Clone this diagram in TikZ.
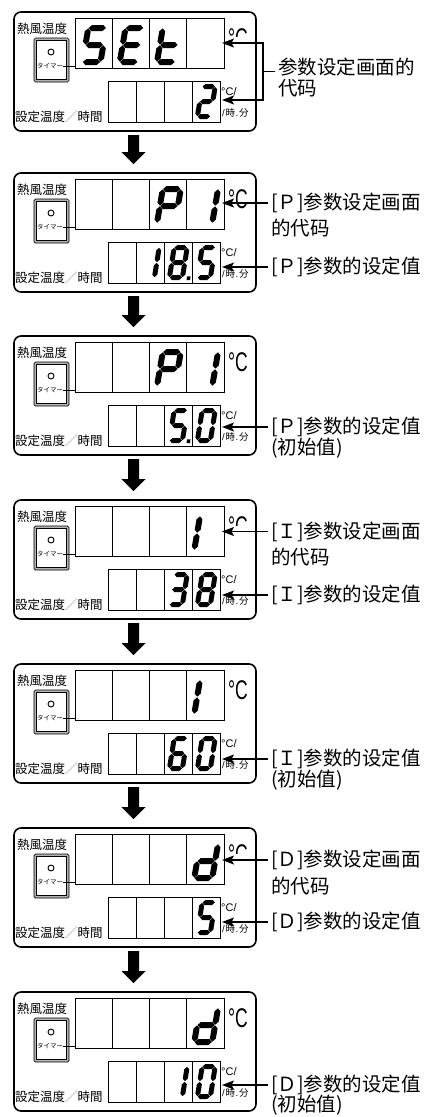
\documentclass[tikz,border=0pt]{standalone}
\usepackage{fontspec}
\usepackage{graphicx}
\usetikzlibrary{arrows.meta,calc}
\newfontfamily\jpfont{Noto Sans CJK JP}
\newfontfamily\zhfont{Noto Sans CJK SC}
\newfontfamily\lsans{Liberation Sans}

\newcommand\SegG{0.35}
\newcommand\hseg[3]{\fill (#1+0.5*\SgT+\SegG,#3) -- (#1+\SgT+\SegG,#3+0.5*\SgT) -- (#2-\SgT-\SegG,#3+0.5*\SgT) -- (#2-0.5*\SgT-\SegG,#3) -- (#2-\SgT-\SegG,#3-0.5*\SgT) -- (#1+\SgT+\SegG,#3-0.5*\SgT) -- cycle;}
\newcommand\vseg[3]{\fill (#1,#2+0.5*\SgT+\SegG) -- (#1+0.5*\SgT,#2+\SgT+\SegG) -- (#1+0.5*\SgT,#3-\SgT-\SegG) -- (#1,#3-0.5*\SgT-\SegG) -- (#1-0.5*\SgT,#3-\SgT-\SegG) -- (#1-0.5*\SgT,#2+\SgT+\SegG) -- cycle;}
\def\Sega{\hseg{0}{\SgW}{\SgH-0.5*\SgT}}
\def\Segg{\hseg{0}{\SgW}{0.5*\SgH}}
\def\Segd{\hseg{0}{\SgW}{0.5*\SgT}}
\def\Segb{\vseg{\SgW-0.5*\SgT}{0.5*\SgH-0.5*\SgT}{\SgH}}
\def\Segc{\vseg{\SgW-0.5*\SgT}{0}{0.5*\SgH+0.5*\SgT}}
\def\Segf{\vseg{0.5*\SgT}{0.5*\SgH-0.5*\SgT}{\SgH}}
\def\Sege{\vseg{0.5*\SgT}{0}{0.5*\SgH+0.5*\SgT}}
\def\Segp{\fill (\SgW+0.4*\SgT,0) rectangle (\SgW+1.1*\SgT,0.75*\SgT);}

\newcommand\SevSeg[7]{%
  \begin{scope}[shift={(#1,#2)},yscale=-1,xslant=-#6]
    \def\SgW{#3}\def\SgH{#4}\def\SgT{#5}%
    \foreach \s in {#7}{\csname Seg\s\endcsname}%
  \end{scope}}
% #1 panel top, #2 cell index, #3 segments
\newcommand\TopDig[3]{\SevSeg{75+37.25*#2+4}{#1+53}{24}{40}{6}{0.17}{#3}}
\newcommand\BotDig[3]{\SevSeg{108+28*#2+2.5}{#1+107}{18}{35}{5}{0.16}{#3}}

\tikzset{
  panelbox/.style={draw, line width=1.6pt, rounded corners=7pt, outer sep=0pt, inner sep=0pt},
  disp/.style={draw, line width=1pt, outer sep=0pt, inner sep=0pt},
  divline/.style={line width=1pt},
  btnout/.style={draw, line width=0.7pt, fill=gray!60, rounded corners=1.5pt, minimum width=35pt, minimum height=44pt, outer sep=0pt, inner sep=0pt},
  btnin/.style={draw, line width=0.7pt, fill=white, minimum width=29.5pt, minimum height=38.5pt, outer sep=0pt, inner sep=0pt},
  led/.style={circle, draw, line width=0.9pt, minimum size=6pt, inner sep=0pt},
  tmlbl/.style={font=\jpfont\fontsize{6.5}{7}\selectfont, inner sep=0pt},
  thinline/.style={line width=0.7pt},
  plbl/.style={font=\jpfont\fontsize{12.5}{14}\selectfont, anchor=west, inner sep=0pt},
  degc/.style={font=\lsans\fontsize{27}{27}\selectfont, anchor=west, inner sep=0pt},
  smallu/.style={font=\lsans\fontsize{11}{12}\selectfont, anchor=west, inner sep=0pt},
  zlbl/.style={font=\zhfont\fontsize{19.5}{21}\selectfont, anchor=west, inner sep=0pt},
  ptr/.style={line width=1.1pt, -{Stealth[length=12pt,width=9pt,inset=2.5pt]}},
  erase/.style={white, line width=12pt},
}

\newcommand\Panel[2]{%
  \node[panelbox, minimum width=242pt, minimum height=119pt, anchor=north west] (p#1) at (14,#2) {};
  \node[disp, minimum width=149pt, minimum height=50pt, anchor=north west] (t#1) at (75,#2+6) {};
  \node[disp, minimum width=112pt, minimum height=41pt, anchor=north west] (b#1) at (108,#2+69) {};
  \foreach \k in {1,2,3}{%
    \draw[divline] ([xshift={37.25*\k}]t#1.north west) -- ([xshift={37.25*\k}]t#1.south west);
    \draw[divline] ([xshift={28*\k}]b#1.north west) -- ([xshift={28*\k}]b#1.south west);}
  \node[btnout, anchor=north west] (bo#1) at (34,#2+26) {};
  \node[btnin] (bi#1) at (bo#1.center) {};
  \node[led] (led#1) at (51,#2+40) {};
  \node[tmlbl] (tm#1) at (50,#2+54) {タイマー};
  \draw[thinline] (tm#1.east) -- (tm#1.east -| t#1.west);
  \node[plbl] (hf#1) at (17,#2+17) {熱風温度};
  \node[plbl] (st#1) at (15,#2+105) {設定温度\textcolor{gray!85}{／}時間};
  \node[degc] (dc#1) at (228,#2+26) {\scalebox{0.65}[1]{°C}};
  \node[smallu] (du#1) at (221,#2+80) {°C/};
  \node[smallu, font=\lsans\fontsize{9.5}{10}\selectfont] (hm#1) at (222,#2+101) {/\kern0.8pt{\jpfont 時}\kern0.6pt.\kern0.8pt{\jpfont 分}};
}

\newcommand\DnArrow[2]{%
  \fill let \p1=(#1.south), \p2=(#2.north) in
    (\x1-7pt,\y1-4pt) -- (\x1+4pt,\y1-4pt) -- (\x1+4pt,\y2+21pt) -- (\x1+10.5pt,\y2+21pt)
    -- (\x1-1.5pt,\y2+9pt) -- (\x1-13.5pt,\y2+21pt) -- (\x1-7pt,\y2+21pt) -- cycle;}

\begin{document}
\begin{tikzpicture}[x=1pt,y=-1pt]
\useasboundingbox[fill=white] (0,0) rectangle (428,1117);

% ---------- Panel 1
\Panel{1}{12}
\TopDig{12}{0}{a,f,g,c,d}
\TopDig{12}{1}{a,f,g,e,d}
\TopDig{12}{2}{f,g,e,d}
\BotDig{12}{3}{a,b,g,e,d}
\draw[erase] (226,12+31) -- (252,12+31);
\node[zlbl] (la1) at (278,12+55) {参数设定画面的};
\node[zlbl] (lb1) at (278,12+76.5) {代码};
\coordinate (k1) at (275,12+59.5);
\coordinate (ta1) at (222,12+31);
\coordinate (tb1) at (222,12+88);
\draw[ptr] (k1) -- ++(-12,0) |- (ta1);
\draw[ptr] (k1) -- ++(-12,0) |- (tb1);

% ---------- Panel 2
\Panel{2}{173}
\TopDig{173}{2}{a,b,f,g,e}
\TopDig{173}{3}{b,c}
\BotDig{173}{1}{b,c}
\BotDig{173}{2}{a,b,c,d,e,f,g,p}
\BotDig{173}{3}{a,f,g,c,d}
\node[zlbl] (la2) at (271,173+30) {[Ｐ]参数设定画面};
\node[zlbl] (lb2) at (271,173+55) {的代码};
\node[zlbl] (lc2) at (271,173+94) {[Ｐ]参数的设定值};
\coordinate (ta2) at (222,173+30);
\coordinate (tb2) at (222,173+94);
\draw[ptr] ([xshift=-3pt]la2.west) -- (ta2);
\draw[ptr] ([xshift=-3pt]lc2.west) -- (tb2);

% ---------- Panel 3
\Panel{3}{336}
\TopDig{336}{2}{a,b,f,g,e}
\TopDig{336}{3}{b,c}
\BotDig{336}{2}{a,f,g,c,d,p}
\BotDig{336}{3}{a,b,c,d,e,f}
\node[zlbl] (lc3) at (271,336+91) {[Ｐ]参数的设定值};
\node[zlbl] (ld3) at (271,336+112) {(初始值)};
\coordinate (tb3) at (222,336+91);
\draw[ptr] ([xshift=-3pt]lc3.west) -- (tb3);

% ---------- Panel 4
\Panel{4}{500}
\TopDig{500}{3}{e,f}
\BotDig{500}{2}{a,b,g,c,d}
\BotDig{500}{3}{a,b,c,d,e,f,g}
\draw[erase] (226,500+31.5) -- (252,500+31.5);
\node[zlbl] (la4) at (271,500+31.5) {[Ｉ]参数设定画面};
\node[zlbl] (lb4) at (271,500+57) {的代码};
\node[zlbl] (lc4) at (271,500+95) {[Ｉ]参数的设定值};
\coordinate (ta4) at (222,500+31.5);
\coordinate (tb4) at (222,500+95);
\draw[ptr] ([xshift=-3pt]la4.west) -- (ta4);
\draw[ptr] ([xshift=-3pt]lc4.west) -- (tb4);

% ---------- Panel 5
\Panel{5}{664}
\TopDig{664}{3}{e,f}
\BotDig{664}{2}{a,f,g,e,d,c}
\BotDig{664}{3}{a,b,c,d,e,f}
\node[zlbl] (lc5) at (271,664+95) {[Ｉ]参数的设定值};
\node[zlbl] (ld5) at (271,664+116) {(初始值)};
\coordinate (tb5) at (222,664+95);
\draw[ptr] ([xshift=-3pt]lc5.west) -- (tb5);

% ---------- Panel 6
\Panel{6}{828}
\TopDig{828}{3}{b,c,d,e,g}
\BotDig{828}{3}{a,f,g,c,d}
\draw[erase] (226,828+32) -- (252,828+32);
\node[zlbl] (la6) at (271,828+32) {[Ｄ]参数设定画面};
\node[zlbl] (lb6) at (271,828+58) {的代码};
\node[zlbl] (lc6) at (271,828+94) {[Ｄ]参数的设定值};
\coordinate (ta6) at (222,828+32);
\coordinate (tb6) at (222,828+94);
\draw[ptr] ([xshift=-3pt]la6.west) -- (ta6);
\draw[ptr] ([xshift=-3pt]lc6.west) -- (tb6);

% ---------- Panel 7
\Panel{7}{992}
\TopDig{992}{3}{b,c,d,e,g}
\BotDig{992}{2}{b,c}
\BotDig{992}{3}{a,b,c,d,e,f}
\node[zlbl] (lc7) at (271,992+93) {[Ｄ]参数的设定值};
\node[zlbl] (ld7) at (271,992+113) {(初始值)};
\coordinate (tb7) at (222,992+93);
\draw[ptr] ([xshift=-3pt]lc7.west) -- (tb7);

% ---------- down arrows
\DnArrow{p1}{p2}
\DnArrow{p2}{p3}
\DnArrow{p3}{p4}
\DnArrow{p4}{p5}
\DnArrow{p5}{p6}
\DnArrow{p6}{p7}
\end{tikzpicture}
\end{document}
